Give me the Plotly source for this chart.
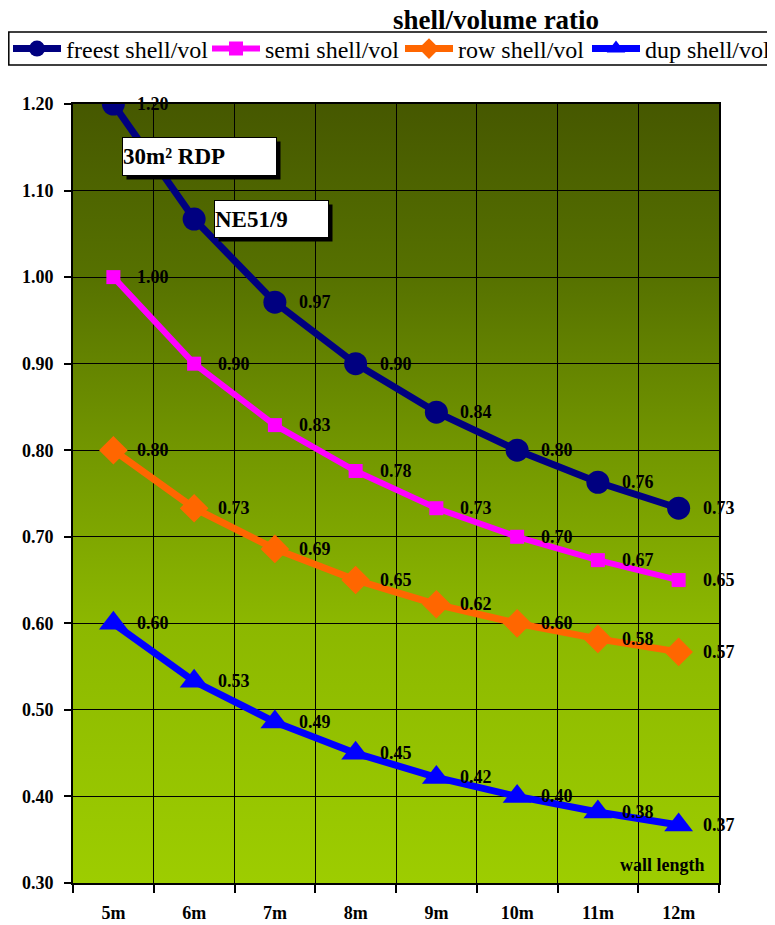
import base64
import plotly.graph_objects as go

categories = ["5m", "6m", "7m", "8m", "9m", "10m", "11m", "12m"]
freest = [1.200, 1.067, 0.971, 0.900, 0.844, 0.800, 0.763, 0.733]
semi = [1.000, 0.900, 0.829, 0.776, 0.733, 0.700, 0.673, 0.650]
row = [0.800, 0.733, 0.686, 0.650, 0.622, 0.600, 0.582, 0.567]
dup = [0.600, 0.533, 0.486, 0.450, 0.422, 0.400, 0.382, 0.367]
series_names = ["freest shell/vol", "semi shell/vol", "row shell/vol", "dup shell/vol"]
y_ticks = [0.30, 0.40, 0.50, 0.60, 0.70, 0.80, 0.90, 1.00, 1.10, 1.20]

FONT = "Liberation Serif"
W, H = 767, 917            # page has an 8px body margin
ML, MR, MT, MB = 65, 56, 96, 42
styles = [
    dict(color="#000080", symbol="circle", size=23, width=7),
    dict(color="#FF00FF", symbol="square", size=14, width=6),
    dict(color="#FF6600", symbol="diamond", size=22, width=7),
    dict(color="#0000FF", symbol="triangle-up", size=25, width=7),
]
legend_ids = ["legend", "legend2", "legend3", "legend4"]
legend_left_px = [-2, 199, 392, 579]

fig = go.Figure()
all_series = [freest, semi, row, dup]
for i, (name, vals, st) in enumerate(zip(series_names, all_series, styles)):
    fig.add_trace(go.Scatter(
        x=categories, y=vals, name=name, mode="lines+markers",
        line=dict(color=st["color"], width=st["width"]),
        marker=dict(color=st["color"], symbol=st["symbol"], size=st["size"]),
        legend=legend_ids[i],
    ))

annotations = []
for i, vals in enumerate(all_series):
    for j, (c, v) in enumerate(zip(categories, vals)):
        annotations.append(dict(
            x=c, y=v, xref="x", yref="y", text=f"<b>{v:.2f}</b>",
            showarrow=False, xanchor="left", yanchor="middle", xshift=22,
            font=dict(family=FONT, size=18, color="black"),
        ))

def box(x, y, text, w, h):
    return [
        dict(x=x, y=y, xref="x", yref="y", text="", showarrow=False,
             xanchor="left", yanchor="middle", width=w, height=h,
             bgcolor="black", xshift=4, yshift=-4, borderpad=0),
        dict(x=x, y=y, xref="x", yref="y", text=f"<b>{text}</b>", showarrow=False,
             xanchor="left", yanchor="middle", width=w, height=h, align="left",
             bgcolor="white", bordercolor="black", borderwidth=1, borderpad=0,
             font=dict(family=FONT, size=23, color="black")),
    ]

annotations += box(0.11, 1.139, "30m² RDP", 153, 37)
annotations += box(1.24, 1.067, "NE51/9", 113, 36)
annotations.append(dict(
    x=0.912, y=0.023, xref="paper", yref="paper", text="<b>wall length</b>",
    showarrow=False, xanchor="center", yanchor="middle",
    font=dict(family=FONT, size=18, color="black"),
))

svg = ('<svg xmlns="http://www.w3.org/2000/svg" width="10" height="100" preserveAspectRatio="none">'
       '<defs><linearGradient id="g" x1="0" y1="0" x2="0" y2="1">'
       '<stop offset="0" stop-color="rgb(70,88,0)"/>'
       '<stop offset="0.22" stop-color="rgb(86,113,0)"/>'
       '<stop offset="0.44" stop-color="rgb(114,150,0)"/>'
       '<stop offset="0.67" stop-color="rgb(140,184,0)"/>'
       '<stop offset="1" stop-color="rgb(157,205,0)"/>'
       '</linearGradient></defs><rect width="10" height="100" fill="url(#g)"/></svg>')
src = "data:image/svg+xml;base64," + base64.b64encode(svg.encode()).decode()

pw, ph = W - ML - MR, H - MT - MB
def px_to_paper_x(fx):
    return (fx - ML) / pw
def px_to_paper_y(fy):
    return (H - MB - fy) / ph

shapes = [
    dict(type="line", xref="x", yref="y domain", x0=0.5, x1=0.5, y0=0, y1=1,
         line=dict(color="black", width=2.5), layer="below"),
    dict(type="line", xref="x", yref="y domain", x0=6.5, x1=6.5, y0=0, y1=1,
         line=dict(color="black", width=2.5), layer="below"),
    dict(type="line", xref="x domain", yref="y", x0=0, x1=1, y0=0.80, y1=0.80,
         line=dict(color="black", width=2.5), layer="below"),
    # legend frame
    dict(type="rect", xref="paper", yref="paper",
         x0=px_to_paper_x(0.8), x1=px_to_paper_x(790),
         y0=px_to_paper_y(57), y1=px_to_paper_y(24),
         line=dict(color="black", width=1.5), fillcolor="rgba(0,0,0,0)", layer="above"),
]

layout_legends = {}
for lid, lx in zip(legend_ids, legend_left_px):
    layout_legends[lid] = dict(
        orientation="h", xref="container", yref="container",
        x=lx / W, y=1 - 41 / H, xanchor="left", yanchor="middle",
        bgcolor="rgba(0,0,0,0)", borderwidth=0,
        font=dict(family=FONT, size=24, color="black"),
        itemwidth=48,
    )

fig.update_layout(
    width=W, height=H,
    margin=dict(l=ML, r=MR, t=MT, b=MB, autoexpand=False),
    paper_bgcolor="white", plot_bgcolor="rgb(110,145,0)",
    font=dict(family=FONT, color="black"),
    title=dict(text="<b>shell/volume ratio</b>", x=488 / W, xanchor="center",
               y=1 - 12 / H, yanchor="middle", xref="container",
               font=dict(family=FONT, size=27, color="black")),
    showlegend=True,
    annotations=annotations,
    shapes=shapes,
    images=[dict(source=src, xref="x domain", yref="y domain", x=0, y=1,
                 sizex=1, sizey=1, xanchor="left", yanchor="top",
                 sizing="stretch", layer="below")],
    xaxis=dict(type="category", tickson="boundaries", showgrid=True,
               gridcolor="black", gridwidth=1, ticks="outside", ticklen=8,
               tickcolor="black", tickwidth=1.5,
               showline=True, linecolor="black", linewidth=2, mirror=True,
               tickfont=dict(family=FONT, size=18, color="black"),
               ticklabelstandoff=12, tickprefix="<b>", ticksuffix="</b>",
               range=[-0.5, 7.5], fixedrange=True),
    yaxis=dict(range=[0.30, 1.20], tickvals=y_ticks,
               ticktext=[f"<b>{t:.2f}</b>" for t in y_ticks],
               showgrid=True, gridcolor="black", gridwidth=1,
               ticks="outside", ticklen=7, tickcolor="black", tickwidth=1.5,
               showline=True, linecolor="black", linewidth=2, mirror=True,
               tickfont=dict(family=FONT, size=18, color="black"),
               ticklabelstandoff=7, zeroline=False, fixedrange=True),
    **layout_legends,
)

fig.write_html("out.html")
